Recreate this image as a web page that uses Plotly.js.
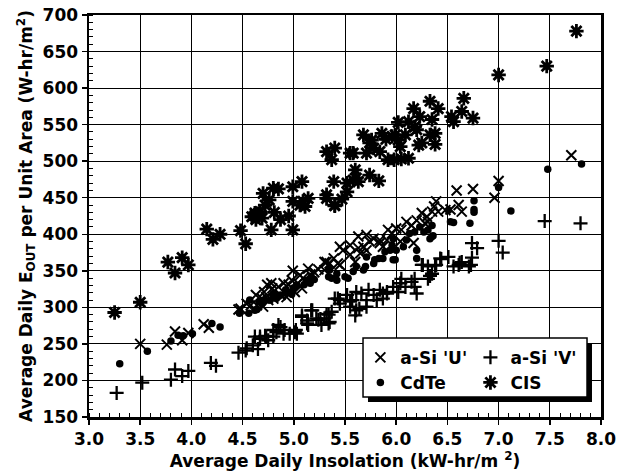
<!DOCTYPE html>
<html>
<head>
<meta charset="utf-8">
<script src="https://cdn.plot.ly/plotly-3.0.1.min.js"></script>
<style>html,body{margin:0;padding:0;background:#fff;}#chart{width:623px;height:475px;}</style>
</head>
<body>
<div id="chart"></div>
<script>
// a-Si 'U'
const uX = [3.50,3.76,3.84,3.91,3.97,4.12,4.17,4.46,4.48,4.58,4.54,4.64,4.70,4.63,4.69,4.75,4.73,4.80,4.71,4.79,4.74,4.78,4.85,4.90,4.95,4.87,4.95,5.01,4.98,4.99,5.04,5.06,5.09,5.14,5.16,5.08,4.93,5.20,5.24,5.30,5.32,5.35,5.39,5.43,5.45,5.30,5.45,5.48,5.55,5.55,5.63,5.63,5.71,5.78,5.84,5.84,5.65,5.71,5.74,5.91,5.68,5.87,5.60,5.92,6.00,6.05,6.10,6.20,6.28,6.31,6.15,5.96,6.04,6.17,6.25,6.30,6.35,6.37,6.39,6.41,6.48,6.53,6.61,6.64,6.59,6.75,6.96,7.00,7.71];
const uY = [250,249,267,255,265,277,272,297,298,303,305,303,301,317,312,310,314,312,321,326,331,333,328,333,331,317,319,321,337,350,333,344,340,353,345,326,314,348,352,362,362,360,367,360,358,351,383,378,385,372,397,381,399,394,388,392,374,378,390,392,383,383,362,406,408,406,417,419,415,417,412,401,390,388,429,424,431,438,445,431,433,434,440,431,460,462,450,473,508];
// a-Si 'V'
const vX = [3.27,3.52,3.80,3.84,3.91,3.97,4.19,4.24,4.46,4.53,4.54,4.60,4.65,4.62,4.67,4.72,4.75,4.80,4.67,4.73,4.85,4.87,4.83,4.80,4.91,4.90,4.96,5.01,5.03,5.02,5.08,5.08,5.13,5.13,5.14,5.17,5.18,5.24,5.22,5.26,5.30,5.32,5.34,5.35,5.37,5.34,5.27,5.40,5.43,5.45,5.45,5.52,5.55,5.55,5.57,5.61,5.60,5.61,5.64,5.66,5.71,5.71,5.73,5.78,5.81,5.84,5.87,5.87,5.91,5.91,5.97,6.02,6.04,6.09,6.15,6.18,6.20,6.05,6.18,6.31,6.33,6.35,6.25,6.26,6.31,6.38,6.39,6.43,6.44,6.51,6.56,6.61,6.62,6.64,6.71,6.73,6.74,6.74,6.79,7.00,7.04,7.45,7.80];
const vY = [183,197,201,215,206,213,224,220,238,241,244,248,243,260,257,261,255,260,260,260,276,273,266,269,269,264,264,266,264,269,287,289,282,278,276,296,296,283,285,284,285,291,290,280,294,278,276,312,312,305,310,317,308,301,310,296,289,321,298,319,301,310,324,317,310,324,312,319,321,319,328,321,333,328,335,328,319,339,339,339,343,346,358,358,356,357,358,367,366,369,356,358,361,362,356,358,368,388,381,391,375,418,415];
// CdTe
const cdX = [3.30,3.57,3.80,3.87,3.92,4.01,4.20,4.28,4.47,4.56,4.62,4.64,4.57,4.66,4.69,4.71,4.77,4.83,4.87,4.92,4.95,4.80,4.85,5.00,5.03,5.10,5.16,5.17,5.20,5.12,4.92,4.98,5.34,5.37,5.42,5.42,5.50,5.53,5.58,5.35,5.61,5.70,5.78,5.87,5.83,5.79,5.71,5.68,5.97,5.89,5.94,5.99,6.00,5.96,6.07,6.10,6.13,6.18,6.27,6.31,6.35,6.36,6.33,6.20,6.20,6.23,6.35,5.97,6.51,6.53,6.56,6.72,6.76,6.76,6.76,7.00,7.12,7.48,7.81];
const cdY = [223,240,254,262,261,264,278,273,292,292,296,297,310,308,305,310,310,312,317,324,321,319,315,327,330,331,333,342,338,337,320,318,342,340,337,346,342,340,349,351,356,356,360,367,367,365,369,351,365,376,378,365,378,385,383,392,401,403,403,406,397,398,394,378,367,410,412,394,433,417,416,415,446,434,430,464,432,489,496];
// CIS
const cisX = [3.25,3.50,3.77,3.84,3.91,3.97,4.15,4.21,4.28,4.48,4.53,4.59,4.62,4.69,4.67,4.62,4.63,4.65,4.72,4.70,4.76,4.80,4.85,4.81,4.87,4.95,4.78,4.99,4.99,5.08,4.99,5.09,5.14,5.11,5.06,5.40,5.32,5.40,5.37,5.32,5.32,5.40,5.47,5.39,5.52,5.58,5.63,5.60,5.74,5.83,5.52,5.61,5.55,5.58,5.68,5.71,5.74,5.78,5.86,5.84,5.76,5.90,5.92,5.98,6.05,6.12,5.96,5.99,6.02,6.04,6.02,6.09,6.12,6.18,6.20,6.17,6.23,6.22,6.25,6.33,6.35,6.33,6.38,6.38,6.41,6.54,6.56,6.66,6.64,6.75,7.00,7.47,7.76];
const cisY = [293,307,362,347,368,358,407,393,400,405,387,424,426,422,431,429,420,428,440,456,447,463,462,430,420,425,406,406,465,472,445,445,449,438,440,440,513,518,502,454,449,439,448,472,470,474,472,488,481,473,458,477,511,511,536,511,525,518,538,513,529,530,502,502,503,504,534,536,529,520,553,536,554,547,543,572,561,522,525,582,557,536,538,523,572,561,554,586,568,559,618,630,678];

const xTicks = [3.0,3.5,4.0,4.5,5.0,5.5,6.0,6.5,7.0,7.5,8.0];
const yTicks = [150,200,250,300,350,400,450,500,550,600,650,700];
const seriesNames = ["a-Si 'U'", "a-Si 'V'", "CdTe", "CIS"];

const FONT = 'DejaVu Sans, Liberation Sans, Arial, sans-serif';

const traces = [
  {x: uX, y: uY, name: seriesNames[0], type: 'scatter', mode: 'markers', legend: 'legend',
   marker: {symbol: 'x-thin-open', size: 10, color: '#000', line: {color: '#000', width: 2}}},
  {x: cdX, y: cdY, name: seriesNames[2], type: 'scatter', mode: 'markers', legend: 'legend',
   marker: {symbol: 'circle', size: 7.5, color: '#000', line: {width: 0}}},
  {x: vX, y: vY, name: seriesNames[1], type: 'scatter', mode: 'markers', legend: 'legend2',
   marker: {symbol: 'cross-thin-open', size: 10, color: '#000', line: {color: '#000', width: 2.3}}},
  {x: cisX, y: cisY, name: seriesNames[3], type: 'scatter', mode: 'markers', legend: 'legend2',
   marker: {symbol: 'asterisk-open', size: 12, color: '#000', line: {color: '#000', width: 2.8}}}
];

const legendCommon = {
  bgcolor: 'rgba(0,0,0,0)', borderwidth: 0, orientation: 'v',
  font: {family: FONT, size: 17, weight: 700, color: '#000'},
  itemwidth: 30, tracegroupgap: 0, yanchor: 'top', xanchor: 'left'
};

const layout = {
  width: 623, height: 475,
  margin: {l: 89, r: 22, t: 15, b: 58},
  paper_bgcolor: '#fff', plot_bgcolor: '#fff',
  font: {family: FONT, size: 17, weight: 700, color: '#000'},
  showlegend: true,
  legend: Object.assign({}, legendCommon, {x: 0.530, y: 0.192}),
  legend2: Object.assign({}, legendCommon, {x: 0.745, y: 0.192}),
  xaxis: {
    range: [3, 8], tickvals: xTicks, ticktext: xTicks.map(v => v.toFixed(1)),
    showgrid: true, gridcolor: '#000', gridwidth: 1,
    showline: true, linecolor: '#000', linewidth: 2.5, mirror: true,
    ticks: 'outside', ticklen: 5, tickwidth: 1.5, tickcolor: '#000',
    minor: {dtick: 0.1, ticks: 'inside', ticklen: 4, tickwidth: 1, tickcolor: '#000', showgrid: false},
    zeroline: false,
    tickfont: {family: FONT, size: 17, weight: 700, color: '#000'},
    title: {text: 'Average Daily Insolation (kW-hr/m <sup>2</sup>)', standoff: 4,
            font: {family: FONT, size: 17, weight: 700, color: '#000'}}
  },
  yaxis: {
    range: [150, 700], tickvals: yTicks,
    showgrid: true, gridcolor: '#000', gridwidth: 1,
    showline: true, linecolor: '#000', linewidth: 2.5, mirror: true,
    ticks: 'outside', ticklen: 5, tickwidth: 1.5, tickcolor: '#000',
    minor: {dtick: 10, ticks: 'inside', ticklen: 4, tickwidth: 1, tickcolor: '#000', showgrid: false},
    zeroline: false,
    tickfont: {family: FONT, size: 17, weight: 700, color: '#000'},
    title: {text: 'Average Daily E<sub>OUT</sub> per Unit Area (W-hr/m<sup>2</sup>)', standoff: 6,
            font: {family: FONT, size: 17, weight: 700, color: '#000'}}
  },
  shapes: [
    {type: 'rect', xref: 'paper', yref: 'paper', layer: 'above',
     x0: 0.5449, x1: 0.9824, y0: 0.0373, y1: 0.184,
     fillcolor: '#000', line: {width: 0}},
    {type: 'rect', xref: 'paper', yref: 'paper', layer: 'above',
     x0: 0.5352, x1: 0.9727, y0: 0.0498, y1: 0.1965,
     fillcolor: '#fff', line: {color: '#000', width: 1.5}}
  ]
};

Plotly.newPlot('chart', traces, layout, {displayModeBar: false, staticPlot: true});
</script>
</body>
</html>
